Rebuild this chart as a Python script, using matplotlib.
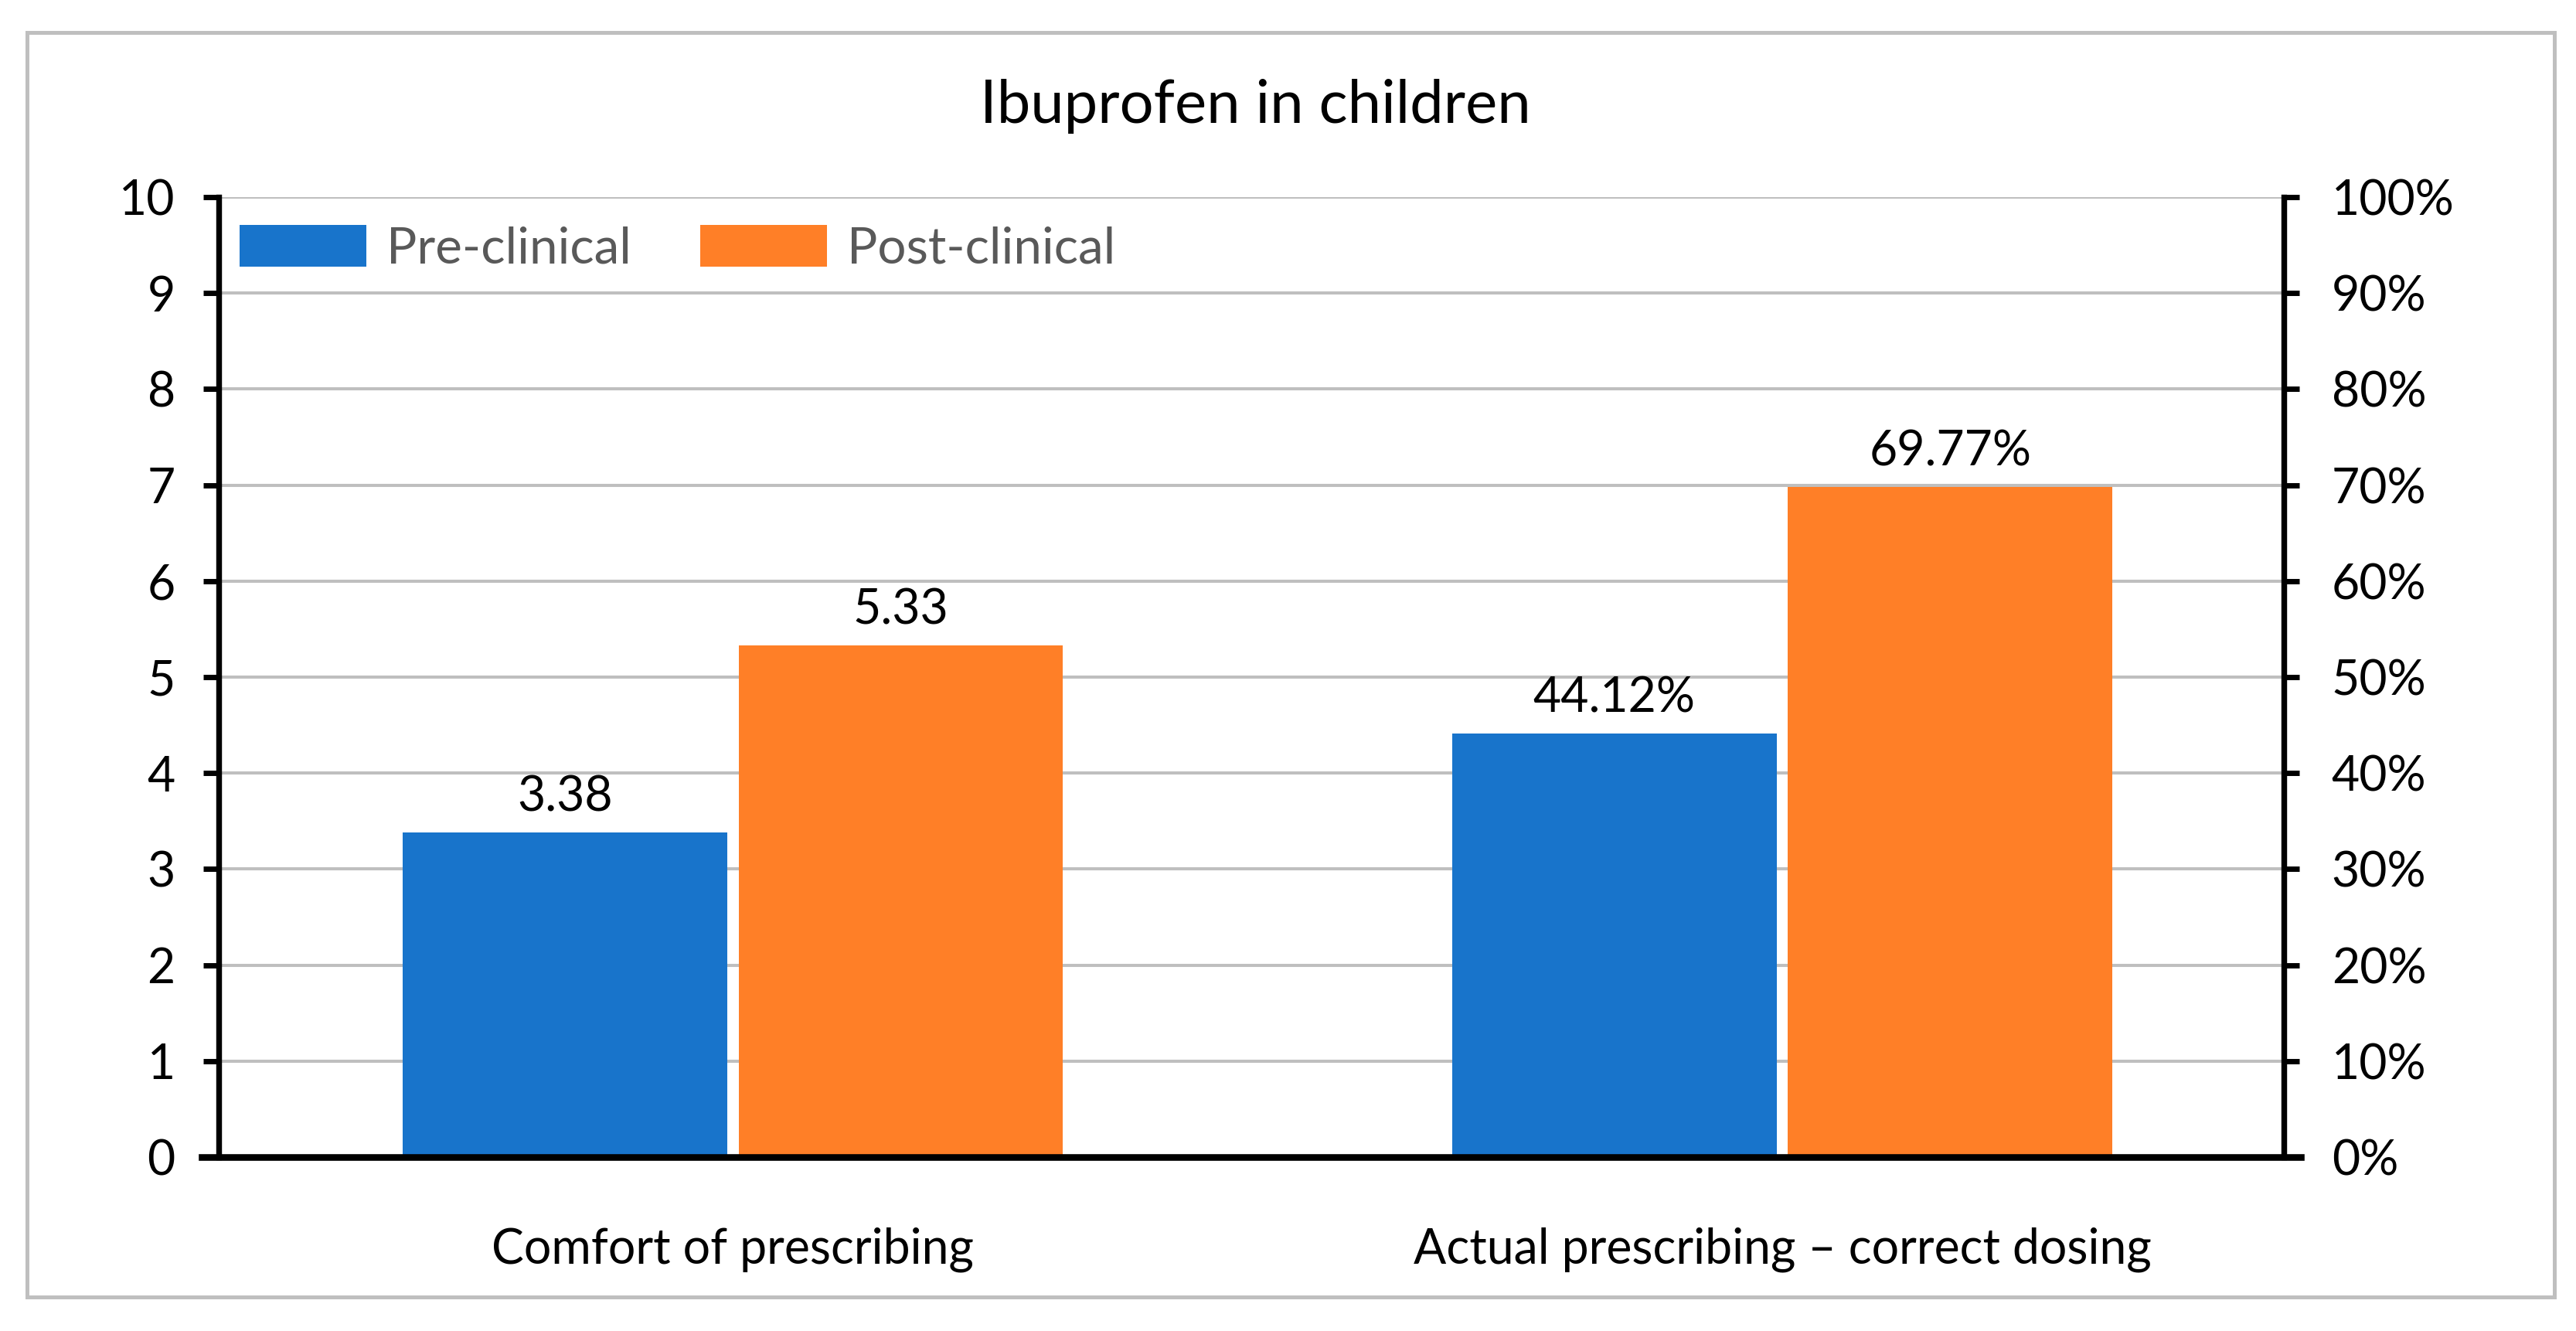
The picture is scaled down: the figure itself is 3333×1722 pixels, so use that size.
import matplotlib
matplotlib.use("Agg")
import matplotlib.pyplot as plt
from matplotlib.patches import Rectangle
import numpy as np

plt.rcParams["font.family"] = ["Lato", "DejaVu Sans"]

# data
title = "Ibuprofen in children"
categories = ["Comfort of prescribing", "Actual prescribing \u2013 correct dosing"]
series_names = ["Pre-clinical", "Post-clinical"]
comfort_scores = [3.38, 5.33]          # left axis, score 0-10
correct_dosing_pct = [0.4412, 0.6977]  # right axis, share 0-100%
left_ticks = list(range(0, 11))
right_ticks = [t / 10 for t in left_ticks]

colors = ["#1874CB", "#FF7F27"]
grid_color = "#BFBFBF"
fs = 22.5

fig = plt.figure(figsize=(16.665, 8.61), dpi=200)
fig.patches.append(Rectangle((0.0105, 0.0256), 0.981, 0.95, transform=fig.transFigure,
                             fill=False, edgecolor=grid_color, linewidth=1.8))

ax = fig.add_axes([0.0849, 0.1307, 0.8017, 0.7212])
ax2 = ax.twinx()

x = np.arange(len(categories))
width = 0.309
offsets = [-0.16, 0.16]

for i, name in enumerate(series_names):
    ax.bar(x[0] + offsets[i], comfort_scores[i], width, color=colors[i], label=name)
    ax2.bar(x[1] + offsets[i], correct_dosing_pct[i], width, color=colors[i])
    ax.annotate(f"{comfort_scores[i]:.2f}", (x[0] + offsets[i], comfort_scores[i]),
                xytext=(0, 10), textcoords="offset points", ha="center", va="baseline",
                fontsize=fs, color="black")
    ax2.annotate(f"{correct_dosing_pct[i] * 100:.2f}%", (x[1] + offsets[i], correct_dosing_pct[i]),
                 xytext=(0, 10), textcoords="offset points", ha="center", va="baseline",
                 fontsize=fs, color="black")

ax.set_xlim(-0.49, 1.478)
ax.set_ylim(0, 10)
ax2.set_ylim(0, 1)

ax.set_yticks(left_ticks)
ax.set_yticklabels([str(t) for t in left_ticks])
ax2.set_yticks(right_ticks)
ax2.set_yticklabels([f"{int(round(t * 100))}%" for t in right_ticks])

ax.set_xticks(x)
ax.set_xticklabels(categories)
ax.tick_params(axis="x", length=0, pad=32.5, labelsize=fs)
ax.tick_params(axis="y", length=7.2, width=2.5, pad=13, labelsize=fs, direction="out")
ax2.tick_params(axis="y", length=7.2, width=2.5, pad=15, labelsize=fs, direction="out")

ax.set_axisbelow(True)
ax.yaxis.grid(True, color=grid_color, linewidth=1.45)

for a in (ax, ax2):
    a.spines["top"].set_visible(False)
    a.spines["bottom"].set_visible(False)
    a.spines["left"].set_linewidth(2.6)
    a.spines["right"].set_linewidth(2.6)
ax2.axhline(0, xmin=-0.0082, xmax=1.0082, color="black", linewidth=3.1, clip_on=False, zorder=10)

leg = ax.legend(loc="center left", bbox_to_anchor=(0.0101, 0.947), ncol=2, frameon=False,
                fontsize=23.6, borderpad=0, borderaxespad=0, handlelength=2.5,
                handleheight=0.89, handletextpad=0.4, columnspacing=1.36)
for t in leg.get_texts():
    t.set_color("#595959")

fig.text(0.4875, 0.920, title, ha="center", va="center", fontsize=28, color="black")

fig.savefig("out.png", dpi=200, facecolor="white")
